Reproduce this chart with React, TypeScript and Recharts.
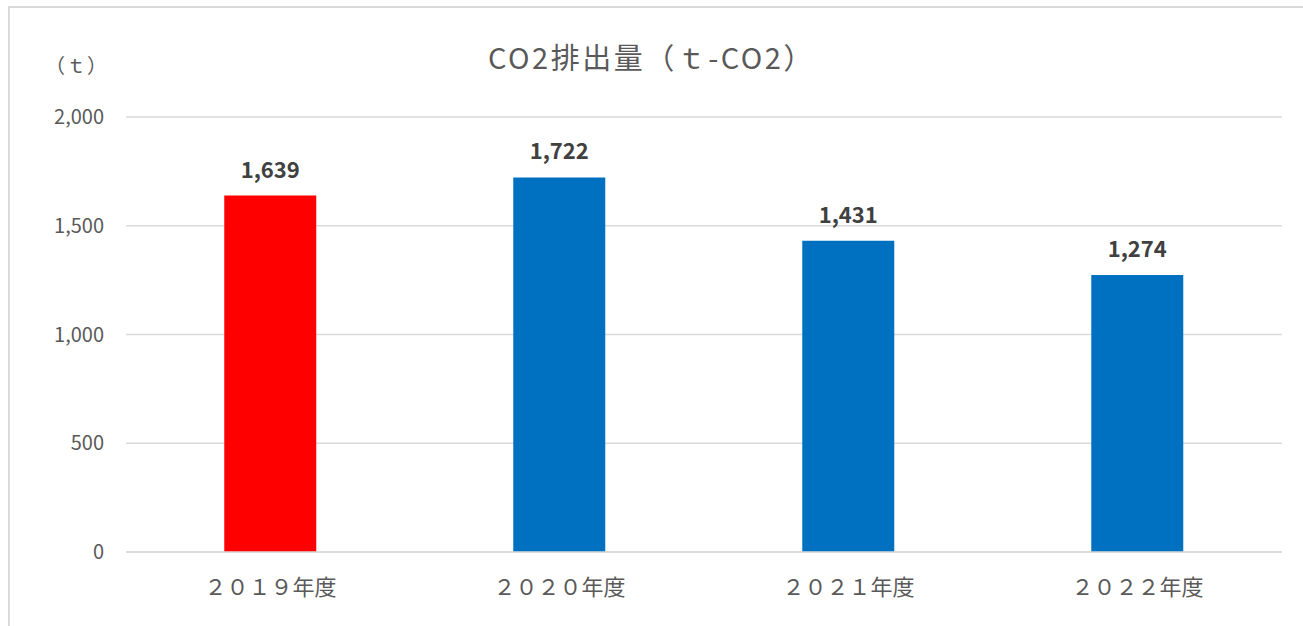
import React from "react";
import { BarChart, Bar, XAxis, YAxis, CartesianGrid, Cell, LabelList } from "recharts";

const categories = ["２０１９年度", "２０２０年度", "２０２１年度", "２０２２年度"];
const emissions = [1639, 1722, 1431, 1274];
const barColors = ["#FF0000", "#0070C0", "#0070C0", "#0070C0"];
const yTicks = [0, 500, 1000, 1500, 2000];
const titleText = "CO2排出量（ｔ-CO2）";
const unitText = "（ｔ）";

const data = categories.map((c, i) => ({ name: c, value: emissions[i] }));
const fmt = (v: number) => v.toLocaleString("en-US");
const FONT = "'Noto Sans CJK JP', 'Noto Sans', sans-serif";

export default function App() {
  return (
    <div style={{ position: "absolute", left: 0, top: 0, width: 1303, height: 626, overflow: "hidden", background: "#fff", fontFamily: FONT }}>
      <div style={{ position: "absolute", left: 8, top: 6, width: 1400, height: 700, border: "2px solid #d9d9d9", boxSizing: "border-box" }} />
      <div style={{ position: "absolute", left: 0, width: 1303, top: 37, textAlign: "center", fontSize: 29, letterSpacing: 2.5, color: "#595959", lineHeight: "38px" }}>{titleText}</div>
      <div style={{ position: "absolute", left: 45, top: 52, fontSize: 20, letterSpacing: 1, color: "#595959", lineHeight: "26px" }}>{unitText}</div>
      <div style={{ position: "absolute", left: 0, top: 0 }}>
        <BarChart width={1303} height={626} data={data} margin={{ top: 117, right: 21, bottom: 44, left: 66 }} barCategoryGap="34%">
          <CartesianGrid vertical={false} stroke="#d9d9d9" strokeWidth={1.5} />
          <XAxis dataKey="name" axisLine={{ stroke: "#d9d9d9", strokeWidth: 1.5 }} tickLine={false} height={30} tickMargin={21} tick={{ fill: "#595959", fontSize: 22, fontFamily: FONT }} />
          <YAxis domain={[0, 2000]} ticks={yTicks} width={60} axisLine={false} tickLine={false} tickSize={0} tickMargin={22} tickFormatter={fmt} tick={{ fill: "#595959", fontSize: 20, fontFamily: FONT }} />
          <Bar dataKey="value" isAnimationActive={false}>
            {data.map((d, i) => (
              <Cell key={d.name} fill={barColors[i]} />
            ))}
            <LabelList dataKey="value" position="top" offset={18} formatter={(v: any) => fmt(Number(v))} style={{ fill: "#404040", fontSize: 22, fontWeight: 700, fontFamily: FONT }} />
          </Bar>
        </BarChart>
      </div>
    </div>
  );
}
